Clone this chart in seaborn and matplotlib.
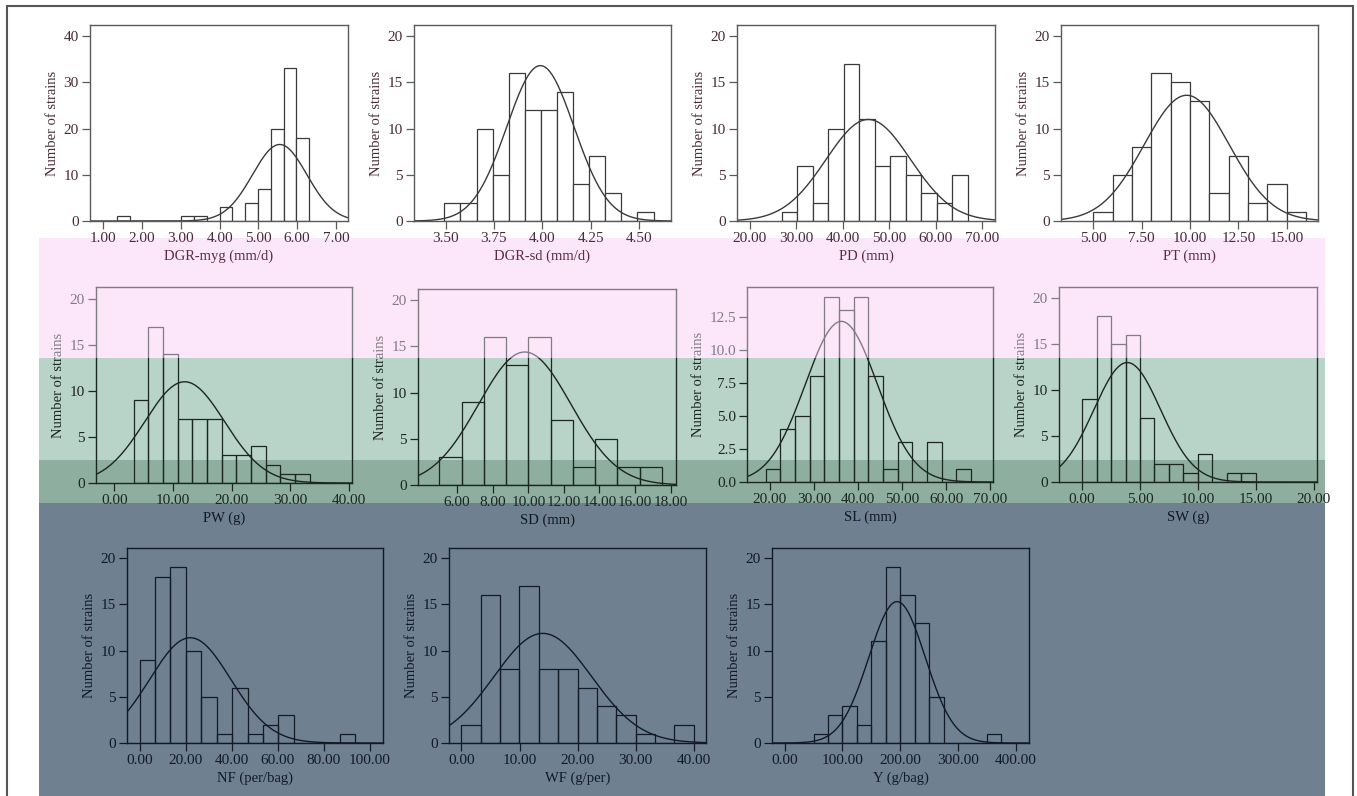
import numpy as np
import pandas as pd
import matplotlib
matplotlib.use("Agg")
import matplotlib.pyplot as plt
from matplotlib.patches import Rectangle
import seaborn as sns

sns.set_style("ticks")
plt.rcParams["font.family"] = ["Liberation Serif", "DejaVu Serif"]

W, H = 1357, 796

# -------------------------------
# Data (bin start, bin width, counts, fitted mean / sd)
# -------------------------------
dgr_myg_counts = [1, 0, 0, 0, 0, 1, 1, 0, 3, 0, 4, 7, 20, 33, 18]
dgr_myg_bins = (1.36, 0.33)
dgr_myg_fit = (5.55, 0.70)

dgr_sd_counts = [2, 2, 10, 5, 16, 12, 12, 14, 4, 7, 3, 0, 1]
dgr_sd_bins = (3.493, 0.0833)
dgr_sd_fit = (3.99, 0.174)

pd_counts = [1, 6, 2, 10, 17, 11, 6, 7, 5, 3, 2, 5]
pd_bins = (26.8, 3.34)
pd_fit = (45.5, 9.1)

pt_counts = [1, 5, 8, 16, 15, 13, 3, 7, 2, 4, 1]
pt_bins = (5.0, 1.0)
pt_fit = (9.83, 2.2)

pw_counts = [9, 17, 14, 7, 7, 7, 3, 3, 4, 2, 1, 1]
pw_bins = (3.3, 2.5)
pw_fit = (12.0, 6.8)

sd_counts = [3, 9, 16, 13, 16, 7, 2, 5, 2, 2]
sd_bins = (5.0, 1.25)
sd_fit = (9.8, 2.6)

sl_counts = [1, 4, 5, 8, 14, 13, 14, 8, 1, 3, 0, 3, 0, 1]
sl_bins = (19.0, 3.33)
sl_fit = (36.2, 8.2)

sw_counts = [9, 18, 15, 16, 7, 2, 2, 1, 3, 0, 1, 1]
sw_bins = (0.0, 1.25)
sw_fit = (3.9, 2.88)

nf_counts = [9, 18, 19, 10, 5, 1, 6, 1, 2, 3, 0, 0, 0, 1]
nf_bins = (0.0, 6.7)
nf_fit = (22.0, 17.6)

wf_counts = [2, 16, 8, 17, 8, 8, 6, 4, 3, 1, 0, 2]
wf_bins = (0.0, 3.33)
wf_fit = (14.0, 8.4)

y_counts = [1, 3, 4, 2, 11, 19, 16, 13, 5, 0, 0, 0, 1]
y_bins = (50.0, 25.0)
y_fit = (194.5, 48.9)

labels = ["DGR-myg (mm/d)", "DGR-sd (mm/d)", "PD (mm)", "PT (mm)",
          "PW (g)", "SD (mm)", "SL (mm)", "SW (g)",
          "NF (per/bag)", "WF (g/per)", "Y (g/bag)"]


def fig_rect(x0, y0, x1, y1):
    return [x0 / W, 1 - y1 / H, (x1 - x0) / W, (y1 - y0) / H]


fig = plt.figure(figsize=(W / 100, H / 100), dpi=100)
fig.patch.set_facecolor("white")

# -------------------------------
# Coloured background bands
# -------------------------------
pink = "#fce6fa"
bands = [
    (39, 238, 1325, 358, pink),
    (39, 358, 1325, 460, "#b8d3c7"),
    (39, 460, 1325, 503, "#8eae9f"),
    (39, 503, 1325, 800, "#6f8091"),
]
for x0, y0, x1, y1, c in bands:
    r = fig_rect(x0, y0, x1, y1)
    fig.add_artist(Rectangle((r[0], r[1]), r[2], r[3], transform=fig.transFigure,
                             facecolor=c, edgecolor="none", zorder=-10))


def panel(box, counts, bins, fit, xlim, xticks, ylim, yticks, xlabel,
          face, line, frame, text, xlabel_color, z, yfmt="{:g}"):
    ax = fig.add_axes(fig_rect(*box), zorder=z)
    ax.set_facecolor("none")
    start, width = bins
    edges = [start + width * i for i in range(len(counts) + 1)]
    df = pd.DataFrame({"value": [e + width / 2 for e in edges[:-1]], "n": counts})
    sns.histplot(data=df, x="value", weights="n", bins=edges, ax=ax, fill=True,
                 facecolor=face, edgecolor=line, linewidth=0.9, alpha=1)
    mean, sd = fit
    xs = np.linspace(xlim[0], xlim[1], 400)
    ys = sum(counts) * width * np.exp(-0.5 * ((xs - mean) / sd) ** 2) / (sd * np.sqrt(2 * np.pi))
    ax.plot(xs, ys, color=line, linewidth=1.0)
    ax.set_xlim(*xlim)
    ax.set_ylim(*ylim)
    ax.set_xticks(xticks)
    ax.set_xticklabels(["{:.2f}".format(t) for t in xticks])
    ax.set_yticks(yticks)
    ax.set_yticklabels([yfmt.format(t) for t in yticks])
    for s in ax.spines.values():
        s.set_visible(True)
        s.set_color(frame)
        s.set_linewidth(1.0)
    ax.tick_params(direction="out", length=6, width=0.9, color=frame,
                   labelcolor=text, labelsize=11, pad=2)
    ax.set_xlabel(xlabel, fontsize=10.5, color=xlabel_color, labelpad=3)
    ax.set_ylabel("Number of strains", fontsize=10.5, color=text, labelpad=3)
    return ax


top_style = dict(face="white", line="#3a3a3a", frame="#5a5a5a", text="#4a2a38",
                 xlabel_color="#5e2a40", z=10)
mid_style = dict(face="none", line="#1c2622", frame="#1c2622", text="#1c2622",
                 xlabel_color="#101820", z=1)
bot_style = dict(face="none", line="#121a26", frame="#121a26", text="#121a26",
                 xlabel_color="#121a26", z=1)

# top row
panel((90, 25, 348, 221), dgr_myg_counts, dgr_myg_bins, dgr_myg_fit, (0.66, 7.31),
      [1, 2, 3, 4, 5, 6, 7], (0, 42.4), [0, 10, 20, 30, 40], labels[0], **top_style)
panel((414, 25, 671, 221), dgr_sd_counts, dgr_sd_bins, dgr_sd_fit, (3.336, 4.666),
      [3.5, 3.75, 4.0, 4.25, 4.5], (0, 21.2), [0, 5, 10, 15, 20], labels[1], **top_style)
panel((737, 25, 995, 221), pd_counts, pd_bins, pd_fit, (17.2, 72.8),
      [20, 30, 40, 50, 60, 70], (0, 21.2), [0, 5, 10, 15, 20], labels[2], **top_style)
panel((1061, 25, 1318, 221), pt_counts, pt_bins, pt_fit, (3.33, 16.62),
      [5, 7.5, 10, 12.5, 15], (0, 21.2), [0, 5, 10, 15, 20], labels[3], **top_style)

# middle row
panel((96, 287, 352, 483), pw_counts, pw_bins, pw_fit, (-3.1, 40.5),
      [0, 10, 20, 30, 40], (0, 21.3), [0, 5, 10, 15, 20], labels[4], **mid_style)
panel((418, 289, 676, 485), sd_counts, sd_bins, sd_fit, (3.8, 18.3),
      [6, 8, 10, 12, 14, 16, 18], (0, 21.2), [0, 5, 10, 15, 20], labels[5], **mid_style)
panel((747, 287, 993, 482), sl_counts, sl_bins, sl_fit, (14.8, 70.6),
      [20, 30, 40, 50, 60, 70], (0, 14.75), [0, 2.5, 5, 7.5, 10, 12.5], labels[6],
      yfmt="{:.1f}", **mid_style)
panel((1059, 287, 1317, 482), sw_counts, sw_bins, sw_fit, (-2.0, 20.3),
      [0, 5, 10, 15, 20], (0, 21.2), [0, 5, 10, 15, 20], labels[7], **mid_style)

# bottom row
panel((127, 548, 383, 743), nf_counts, nf_bins, nf_fit, (-5.5, 105.8),
      [0, 20, 40, 60, 80, 100], (0, 21.1), [0, 5, 10, 15, 20], labels[8], **bot_style)
panel((449, 548, 706, 743), wf_counts, wf_bins, wf_fit, (-2.14, 42.1),
      [0, 10, 20, 30, 40], (0, 21.1), [0, 5, 10, 15, 20], labels[9], **bot_style)
panel((772, 548, 1029, 743), y_counts, y_bins, y_fit, (-22, 423),
      [0, 100, 200, 300, 400], (0, 21.1), [0, 5, 10, 15, 20], labels[10], **bot_style)

# pink tint over the upper part of the middle row
r = fig_rect(39, 238, 1325, 358)
fig.add_artist(Rectangle((r[0], r[1]), r[2], r[3], transform=fig.transFigure,
                         facecolor=pink, edgecolor="none", alpha=0.45, zorder=5))

# outer frame
r = fig_rect(7, 6, 1353, 805)
fig.add_artist(Rectangle((r[0], r[1]), r[2], r[3], transform=fig.transFigure,
                         facecolor="none", edgecolor="#555555", linewidth=1.5, zorder=20))

fig.savefig("out.png", dpi=100)
